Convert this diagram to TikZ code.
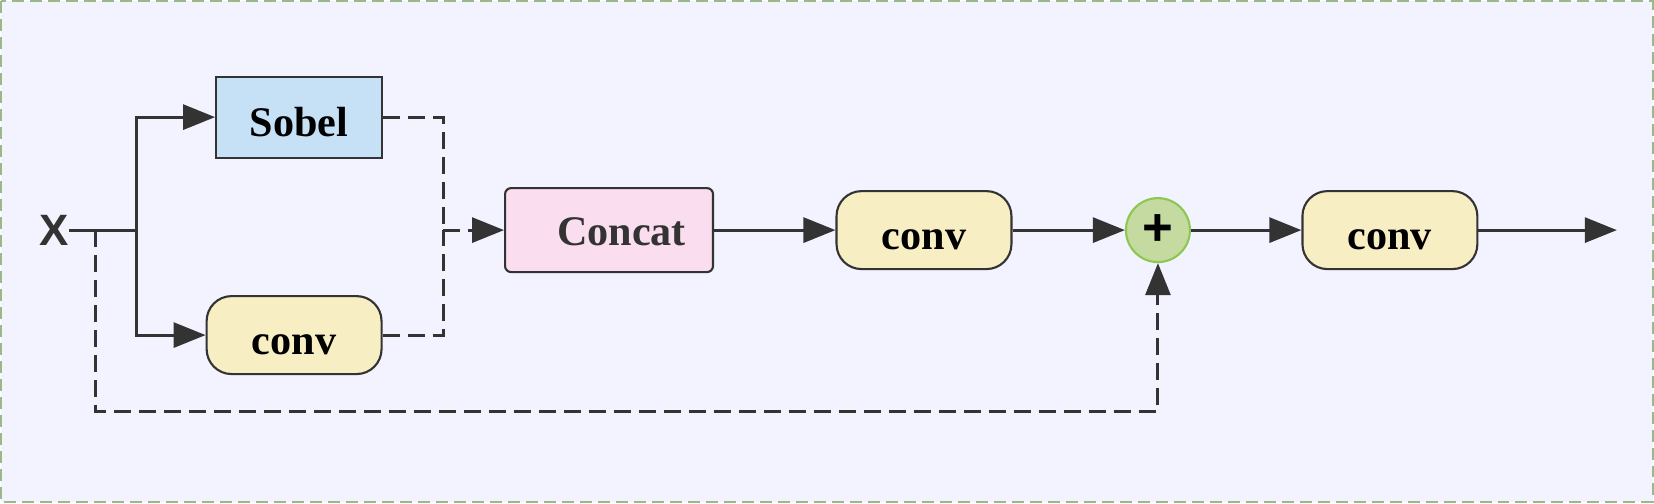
\documentclass[tikz,border=0pt]{standalone}
\usepackage{fontspec}
\setmainfont{Liberation Serif}
\newfontfamily\xsans{Liberation Sans}
\usepackage{tikz}
\usetikzlibrary{arrows.meta,positioning,shapes.geometric}
\usepackage{xcolor}

\definecolor{bgcol}{RGB}{242,243,255}
\definecolor{framecol}{RGB}{155,185,135}
\definecolor{linecol}{RGB}{51,51,51}
\definecolor{sobelcol}{RGB}{198,224,246}
\definecolor{catcol}{RGB}{250,221,238}
\definecolor{convcol}{RGB}{248,238,196}
\definecolor{sumcol}{RGB}{196,218,160}
\definecolor{sumline}{RGB}{140,200,80}

\begin{document}
\begin{tikzpicture}[x=0.02cm, y=-0.02cm,
	box/.style={draw=linecol, line width=1.2pt, minimum height=1.62cm,
		text height=22pt, text depth=0pt,
		font=\fontsize{24}{28}\selectfont\bfseries},
	convbox/.style={box, fill=convcol, rounded corners=0.5cm,
		minimum width=3.5cm, minimum height=1.56cm},
	arr/.style={-{Triangle[length=0.64cm,width=0.5cm]}, line width=1.7pt, draw=linecol},
	darr/.style={arr, dash pattern=on 0.34cm off 0.16cm},
	dline/.style={line width=1.7pt, draw=linecol, dash pattern=on 0.34cm off 0.16cm}
]
	% Frame and background
	\draw[fill=bgcol, draw=framecol, line width=1.3pt, dash pattern=on 0.24cm off 0.12cm]
		(1,1) rectangle (1653,502);
	\useasboundingbox (0,0) rectangle (1654,503);

	% Input
	\node[text=linecol, font=\xsans\fontsize{25}{28}\selectfont\bfseries, inner sep=0pt]
		(x) at (54, 230) {X};
	\coordinate (tap) at (95, 230);
	\coordinate (split) at (136, 230);

	% Branches
	\node[box, fill=sobelcol, minimum width=3.32cm] (sobel) at (299, 117) {Sobel};
	\node[convbox] (conv1) at (294, 335) {conv};
	\coordinate (merge) at (443, 230);

	\draw[arr, -] (x.east) -- (split);
	\draw[arr] (split) |- (sobel.west);
	\draw[arr] (split) |- (conv1.west);
	\draw[dline] (sobel.east) -| (merge);
	\draw[dline] (conv1.east) -| (merge);

	% Main path
	\node[box, fill=catcol, rounded corners=0.12cm, minimum width=4.16cm,
		minimum height=1.68cm, text height=17pt, text=linecol] (concat) at (609, 230)
		{\hspace*{0.5cm}Concat};
	\node[convbox] (conv2) at (924, 230) {conv};
	\node[circle, draw=sumline, line width=1.2pt, fill=sumcol, minimum size=1.28cm,
		inner sep=0pt, font=\xsans\fontsize{30}{30}\selectfont\bfseries] (sum) at (1158, 230) {+};
	\node[convbox] (conv3) at (1390, 230) {conv};
	\coordinate (out) at (1617, 230);

	\draw[darr] (merge) -- (concat.west);
	\draw[arr] (concat) -- (conv2);
	\draw[arr] (conv2) -- (sum);
	\draw[arr] (sum) -- (conv3);
	\draw[arr] (conv3) -- (out);

	% Skip connection
	\coordinate (low) at (95, 411);
	\draw[darr] (tap) -- (low) -| (sum.south);
\end{tikzpicture}
\end{document}
